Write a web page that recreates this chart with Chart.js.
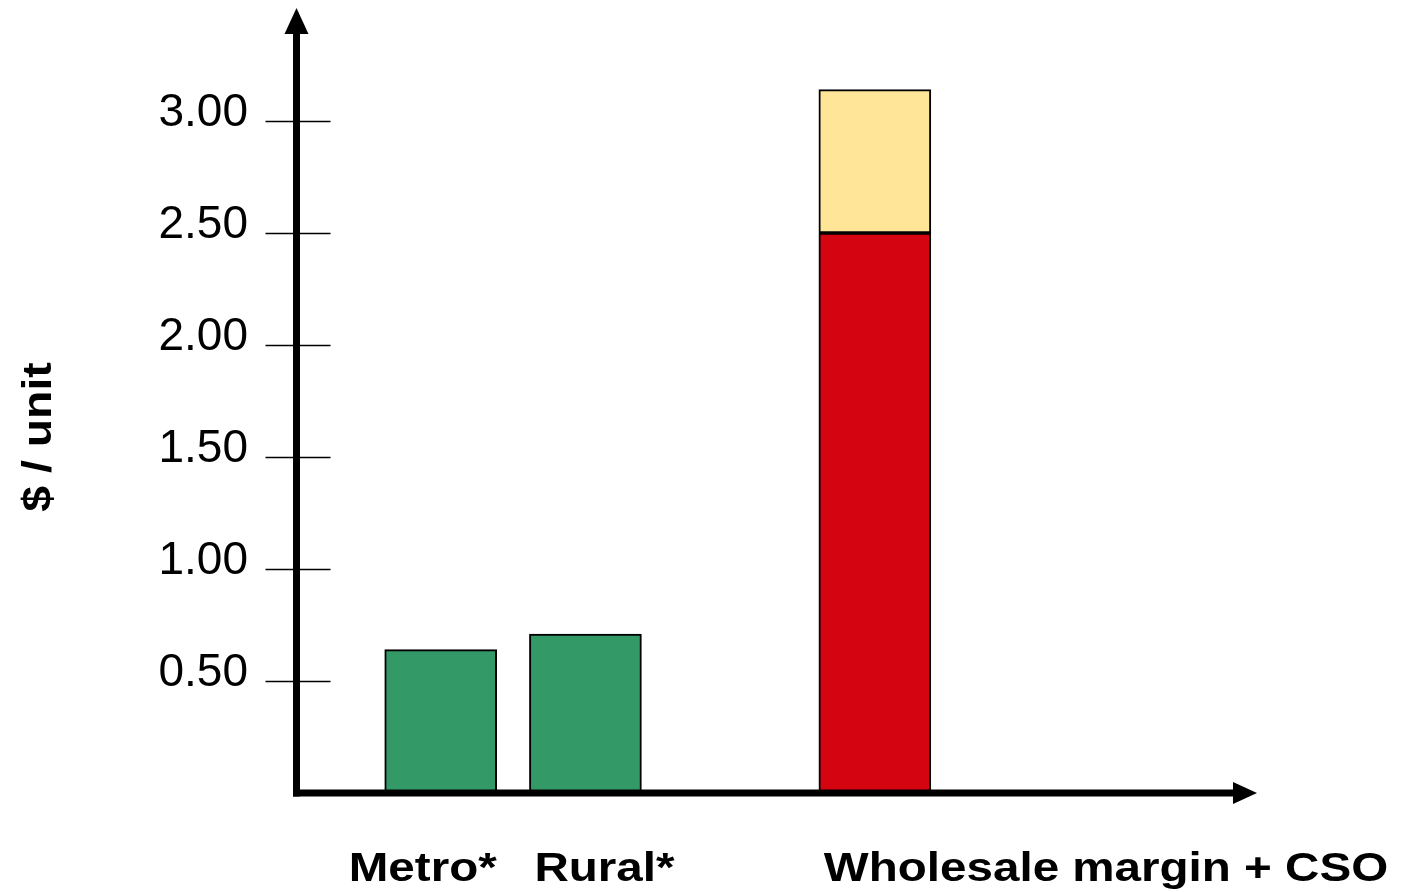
<!DOCTYPE html>
<html>
<head>
<meta charset="utf-8">
<script src="https://cdn.jsdelivr.net/npm/chart.js@4/dist/chart.umd.min.js"></script>
<style>
  html, body { margin: 0; padding: 0; background: #fff; }
  #wrap { width: 1403px; height: 892px; position: relative; }
</style>
</head>
<body>
<div id="wrap"><canvas id="chart"></canvas></div>
<script>
// categories (blank slots keep the gaps between the bar groups)
const categories = ['', 'Metro*', 'Rural*', '', 'Wholesale margin + CSO', '', '', ''];
const accessCost = [null, 0.64, 0.71, null, null, null, null, null];
const wholesaleMargin = [null, null, null, null, 2.50, null, null, null];
const csoCost = [null, null, null, null, 0.64, null, null, null];
const yTicks = [0.5, 1.0, 1.5, 2.0, 2.5, 3.0];
const yTitle = '$ / unit';

const FONT = '"Liberation Sans", Arial, sans-serif';

// axes with arrow heads, tick marks, bottom labels and stretched y title
const axesPlugin = {
    id: 'axes',
    afterDatasetsDraw(chart) {
        const ctx = chart.ctx;
        const area = chart.chartArea;
        const xs = chart.scales.x;
        const ys = chart.scales.y;
        const ax = area.left + 0.5;
        const ay = area.bottom;
        const xEnd = area.right - 52;

        ctx.save();
        ctx.fillStyle = '#000';
        ctx.strokeStyle = '#000';

        // tick marks crossing the y axis
        ctx.lineWidth = 1.6;
        yTicks.forEach(v => {
            const py = Math.round(ys.getPixelForValue(v)) + 0.5;
            ctx.beginPath();
            ctx.moveTo(ax - 31, py);
            ctx.lineTo(ax + 34, py);
            ctx.stroke();
        });

        // y axis + arrow
        ctx.lineWidth = 7;
        ctx.beginPath();
        ctx.moveTo(ax, ay + 3.5);
        ctx.lineTo(ax, area.top + 22);
        ctx.stroke();
        ctx.beginPath();
        ctx.moveTo(ax, area.top - 1);
        ctx.lineTo(ax - 12, area.top + 25);
        ctx.lineTo(ax + 12, area.top + 25);
        ctx.closePath();
        ctx.fill();

        // x axis + arrow
        ctx.beginPath();
        ctx.moveTo(ax - 3.5, ay);
        ctx.lineTo(xEnd - 20, ay);
        ctx.stroke();
        ctx.beginPath();
        ctx.moveTo(xEnd, ay);
        ctx.lineTo(xEnd - 24, ay - 11);
        ctx.lineTo(xEnd - 24, ay + 11);
        ctx.closePath();
        ctx.fill();

        // category labels: first one ends at its bar's right edge,
        // the others start at their bar's left edge
        const stretch = 1.16;
        const half = 56;
        ctx.font = 'bold 41px ' + FONT;
        ctx.textBaseline = 'alphabetic';
        let first = true;
        categories.forEach((c, i) => {
            if (!c) return;
            const px = xs.getPixelForValue(i);
            ctx.save();
            if (first) {
                ctx.translate(px + half, ay + 88);
                ctx.textAlign = 'right';
            } else {
                ctx.translate(px - half + 5, ay + 88);
                ctx.textAlign = 'left';
            }
            ctx.scale(stretch, 1);
            ctx.fillText(c, 0, 0);
            ctx.restore();
            first = false;
        });

        // y axis title
        ctx.save();
        ctx.font = 'bold 40px ' + FONT;
        ctx.translate(51, area.bottom - 356);
        ctx.rotate(-Math.PI / 2);
        ctx.scale(stretch, 1);
        ctx.textAlign = 'center';
        ctx.fillText(yTitle, 0, 0);
        ctx.restore();

        ctx.restore();
    }
};

const barStyle = {
    borderColor: '#000',
    borderWidth: 2,
    borderSkipped: false,
    barThickness: 112
};

new Chart(document.getElementById('chart'), {
    type: 'bar',
    data: {
        labels: categories,
        datasets: [
            Object.assign({ label: 'Access', data: accessCost, backgroundColor: '#339966' }, barStyle),
            Object.assign({ label: 'Wholesale margin', data: wholesaleMargin, backgroundColor: '#D40511' }, barStyle),
            Object.assign({ label: 'CSO', data: csoCost, backgroundColor: '#FFE597' }, barStyle)
        ]
    },
    options: {
        responsive: true,
        maintainAspectRatio: false,
        animation: false,
        layout: { padding: { top: 9, right: 94, left: 0, bottom: 0 } },
        plugins: {
            legend: { display: false },
            tooltip: { enabled: false }
        },
        scales: {
            x: {
                type: 'category',
                stacked: true,
                offset: false,
                grid: { display: false, drawTicks: false },
                border: { display: false },
                ticks: { display: false },
                afterFit: s => { s.height = 99; s.paddingLeft = 0; s.paddingRight = 0; }
            },
            y: {
                stacked: true,
                min: 0,
                max: 3.5,
                grid: { display: false, drawTicks: false },
                border: { display: false },
                afterBuildTicks: s => { s.ticks = yTicks.map(v => ({ value: v })); },
                afterFit: s => { s.width = 296; s.paddingTop = 0; s.paddingBottom = 0; },
                ticks: {
                    color: '#000',
                    padding: 48,
                    labelOffset: -8,
                    font: { family: FONT, size: 46 },
                    callback: v => Number(v).toFixed(2)
                }
            }
        }
    },
    plugins: [axesPlugin]
});
</script>
</body>
</html>
